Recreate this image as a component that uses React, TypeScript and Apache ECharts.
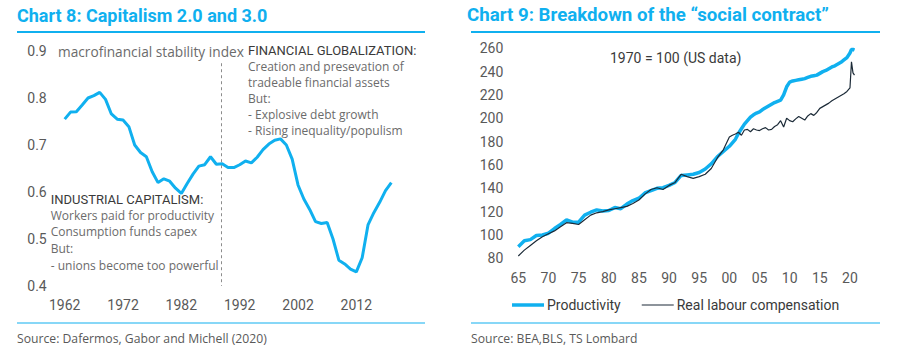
import React, { useEffect, useRef } from "react";
import * as echarts from "echarts";

// ---------- Chart 8 data ----------
const leftYears = [
  1962, 1963, 1964, 1965, 1966, 1967, 1968, 1969, 1970, 1971,
  1972, 1973, 1974, 1975, 1976, 1977, 1978, 1979, 1980, 1981,
  1982, 1983, 1984, 1985, 1986, 1987, 1988, 1989, 1990, 1991,
  1992, 1993, 1994, 1995, 1996, 1997, 1998, 1999, 2000, 2001,
  2002, 2003, 2004, 2005, 2006, 2007, 2008, 2009, 2010, 2011,
  2012, 2013, 2014, 2015, 2016, 2017, 2018,
];
const stabilityIndex = [
  0.755, 0.77, 0.771, 0.785, 0.8, 0.805, 0.812, 0.797, 0.766, 0.755,
  0.753, 0.739, 0.7, 0.684, 0.675, 0.643, 0.62, 0.628, 0.623, 0.608,
  0.597, 0.618, 0.638, 0.655, 0.658, 0.675, 0.659, 0.66, 0.652, 0.652,
  0.658, 0.666, 0.662, 0.674, 0.69, 0.702, 0.71, 0.713, 0.7, 0.67,
  0.615, 0.585, 0.563, 0.537, 0.533, 0.535, 0.5, 0.455, 0.447, 0.436,
  0.43, 0.46, 0.53, 0.556, 0.578, 0.603, 0.62,
];
const regimeBreakYear = 1988.8;
const regimeLineTop = 0.874;

// ---------- Chart 9 data ----------
const rightYears = [
  1965, 1966, 1967, 1968, 1969, 1970, 1971, 1972, 1973, 1974,
  1975, 1976, 1977, 1978, 1979, 1980, 1981, 1982, 1983, 1984,
  1985, 1986, 1987, 1988, 1989, 1990, 1991, 1992, 1993, 1994,
  1995, 1996, 1997, 1998, 1999,
  2000, 2000.5, 2001, 2001.5, 2002, 2002.5, 2003, 2003.5, 2004, 2004.5,
  2005, 2005.5, 2006, 2006.5, 2007, 2007.5, 2008, 2008.5, 2009, 2009.5,
  2010, 2010.5, 2011, 2011.5, 2012, 2012.5, 2013, 2013.5, 2014, 2014.5,
  2015, 2015.5, 2016, 2016.5, 2017, 2017.5, 2018, 2018.5, 2019, 2019.5,
  2020, 2020.25, 2020.5, 2020.75,
];
const productivity = [
  90, 95, 96, 99.5, 100, 101.5, 105.5, 109, 113, 111,
  111, 117, 119.5, 121.5, 120.5, 121, 123.5, 122.5, 126.5, 129.5,
  131.5, 136, 138, 140, 140.5, 142.5, 145, 151, 151.5, 152,
  153.5, 156.5, 161, 167, 171.5,
  176, 179, 182, 187, 191, 195, 198, 201, 203, 204.5,
  205.5, 207.5, 209, 210.5, 212, 213.5, 214.5, 215.5, 220, 227,
  231, 232, 232.5, 233, 233.5, 234, 235, 236, 236.5, 237,
  238.5, 240, 241, 242.5, 244, 245, 246.5, 248, 250, 252,
  256, 259, 259, 258.5,
];
const compensation = [
  82, 87, 91, 95, 98.5, 101, 103.5, 107, 110.5, 110,
  109, 113, 117, 119, 120, 121.5, 122.5, 123.5, 124.5, 127,
  130, 135, 139, 140.5, 139, 142.5, 145, 152, 150, 148.5,
  150, 152, 157, 166, 173,
  184, 185.5, 186.5, 188, 185.5, 190, 190.5, 188.5, 191, 190,
  189.5, 191, 192, 190, 190.5, 193, 194.5, 198, 192.5, 200,
  198, 197, 199.5, 201.5, 200, 198.5, 202, 204, 202.5, 205,
  208.5, 210, 211.5, 213, 215, 216.5, 218, 219.5, 221, 223,
  226, 248.5, 239, 237,
];

const yLabelsLeft = [0.4, 0.5, 0.6, 0.7, 0.8, 0.9];

const CYAN = "#10b0ef";
const GREY = "#595959";
const DARK = "#3a3a3a";
const NOTE = "#6b6b6b";
const FONT = "Roboto, 'Noto Sans', sans-serif";
const FONT2 = "'Open Sans', Roboto, sans-serif";

function txt(
  text: string,
  x: number,
  y: number,
  size: number,
  fill: string,
  weight: string = "normal",
  family: string = FONT
) {
  return {
    type: "text",
    x,
    y,
    silent: true,
    style: {
      text,
      fill,
      fontSize: size,
      fontWeight: weight,
      fontFamily: family,
      verticalAlign: "middle",
      align: "left",
    },
  };
}

export default function App() {
  const ref = useRef<HTMLDivElement>(null);

  useEffect(() => {
    if (!ref.current) return;
    const chart = echarts.init(ref.current, undefined, { renderer: "svg" });

    const axisLabelStyle = { color: GREY, fontSize: 14, fontFamily: FONT };

    const option: any = {
      animation: false,
      backgroundColor: "#ffffff",
      grid: [
        { left: 64.7, top: 51, width: 338.3, height: 235 },
        { left: 518.3, top: 48.3, width: 337.7, height: 210 },
      ],
      xAxis: [
        {
          type: "value",
          gridIndex: 0,
          min: 1962,
          max: 2020,
          interval: 10,
          axisLine: { show: false },
          axisTick: { show: false },
          splitLine: { show: false },
          axisLabel: { ...axisLabelStyle, margin: 12, showMaxLabel: false, formatter: (v: number) => String(v) },
        },
        {
          type: "value",
          gridIndex: 1,
          min: 1965,
          max: 2021,
          interval: 5,
          axisLine: { show: false },
          axisTick: { show: false },
          splitLine: { show: false },
          axisLabel: {
            ...axisLabelStyle,
            margin: 13,
            showMaxLabel: false,
            formatter: (v: number) => String(Math.round(v) % 100).padStart(2, "0"),
          },
        },
      ],
      yAxis: [
        {
          type: "value",
          gridIndex: 0,
          min: yLabelsLeft[0],
          max: yLabelsLeft[yLabelsLeft.length - 1],
          interval: 0.1,
          axisLine: { show: false },
          axisTick: { show: false },
          splitLine: { show: false },
          axisLabel: { ...axisLabelStyle, margin: 18, formatter: (v: number) => v.toFixed(1) },
        },
        {
          type: "value",
          gridIndex: 1,
          min: 80,
          max: 260,
          interval: 20,
          axisLine: { show: false },
          axisTick: { show: false },
          splitLine: { show: false },
          axisLabel: { ...axisLabelStyle, margin: 15 },
        },
      ],
      legend: {
        left: 507,
        top: 293,
        itemWidth: 32,
        itemHeight: 14,
        itemGap: 21,
        textStyle: { color: DARK, fontSize: 14, fontFamily: FONT, padding: [0, 0, 0, -2] },
        data: [
          { name: "Productivity", icon: "path://M0,0M32,14M0,5.25L32,5.25L32,8.75L0,8.75Z" },
          { name: "Real labour compensation", icon: "path://M0,0M32,14M0,6.4L32,6.4L32,7.6L0,7.6Z" },
        ],
      },
      series: [
        {
          name: "Macrofinancial stability index",
          type: "line",
          xAxisIndex: 0,
          yAxisIndex: 0,
          showSymbol: false,
          symbol: "none",
          lineStyle: { color: CYAN, width: 3 },
          itemStyle: { color: CYAN },
          data: leftYears.map((y, i) => [y, stabilityIndex[i]]),
          markLine: {
            silent: true,
            symbol: "none",
            label: { show: false },
            lineStyle: { color: "#8c8c8c", type: [3, 3], width: 1 },
            data: [
              [
                { coord: [regimeBreakYear, regimeLineTop] },
                { coord: [regimeBreakYear, yLabelsLeft[0]] },
              ],
            ],
          },
        },
        {
          name: "Productivity",
          type: "line",
          xAxisIndex: 1,
          yAxisIndex: 1,
          showSymbol: false,
          symbol: "none",
          lineStyle: { color: CYAN, width: 3.5 },
          itemStyle: { color: CYAN },
          data: rightYears.map((y, i) => [y, productivity[i]]),
        },
        {
          name: "Real labour compensation",
          type: "line",
          xAxisIndex: 1,
          yAxisIndex: 1,
          showSymbol: false,
          symbol: "none",
          lineStyle: { color: "#1c2b38", width: 1.2 },
          itemStyle: { color: "#1c2b38" },
          z: 3,
          data: rightYears.map((y, i) => [y, compensation[i]]),
        },
      ],
      graphic: [
        txt("Chart 8: Capitalism 2.0 and 3.0", 17, 15, 18, CYAN, "bold"),
        txt("Chart 9: Breakdown of the \u201csocial contract\u201d", 467, 15, 18.7, CYAN, "bold"),
        { type: "rect", silent: true, shape: { x: 17, y: 31, width: 408, height: 2 }, style: { fill: CYAN } },
        { type: "rect", silent: true, shape: { x: 471, y: 31, width: 409, height: 2 }, style: { fill: CYAN } },
        { type: "rect", silent: true, shape: { x: 17, y: 322.5, width: 408, height: 1 }, style: { fill: CYAN } },
        { type: "rect", silent: true, shape: { x: 471, y: 322.5, width: 409, height: 1 }, style: { fill: CYAN } },
        txt("Source: Dafermos, Gabor and Michell (2020)", 17, 338, 12.2, GREY, "normal", FONT2),
        txt("Source: BEA,BLS, TS Lombard", 471, 338, 12.2, GREY, "normal", FONT2),
        txt("macrofinancial stability index", 58, 51, 13.7, NOTE, "normal", FONT2),
        txt("FINANCIAL GLOBALIZATION:", 248, 50, 13, DARK),
        txt("Creation and presevation of", 248, 66, 12, NOTE, "normal", FONT2),
        txt("tradeable financial assets", 248, 82, 12, NOTE, "normal", FONT2),
        txt("But:", 248, 98, 12, NOTE, "normal", FONT2),
        txt("- Explosive debt growth", 248, 114, 12, NOTE, "normal", FONT2),
        txt("- Rising inequality/populism", 248, 130, 12, NOTE, "normal", FONT2),
        txt("INDUSTRIAL CAPITALISM:", 50.7, 199, 13, DARK),
        txt("Workers paid for productivity", 50.7, 215, 12, NOTE, "normal", FONT2),
        txt("Consumption funds capex", 50.7, 231, 12, NOTE, "normal", FONT2),
        txt("But:", 50.7, 248, 12, NOTE, "normal", FONT2),
        txt("- unions become too powerful", 50.7, 265, 12, NOTE, "normal", FONT2),
        txt("1970 = 100 (US data)", 610, 58, 14, DARK),
      ],
    };

    chart.setOption(option);
    return () => chart.dispose();
  }, []);

  return (
    <div
      ref={ref}
      style={{ position: "absolute", left: 0, top: 0, width: 898, height: 352, background: "#fff" }}
    />
  );
}
